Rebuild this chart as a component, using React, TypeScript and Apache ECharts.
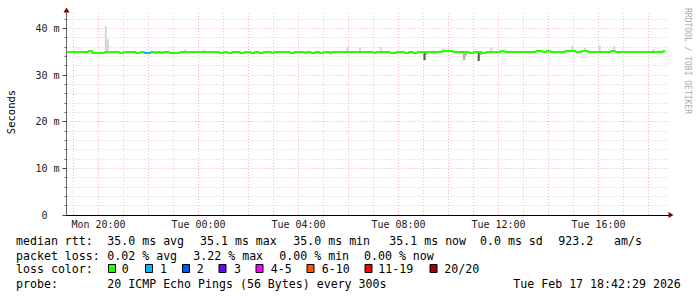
import React, { useEffect, useRef } from 'react';
import * as echarts from 'echarts';

// ---- data (time in minutes relative to Mon 20:00) ----
const medianTimes = [-75, -25, -15, 15, 50, 60, 90, 100, 110, 125, 135, 140, 150, 155, 170, 195, 290, 300, 310, 320, 340, 350, 365, 375, 385, 395, 415, 420, 460, 470, 495, 500, 510, 520, 530, 540, 555, 560, 660, 665, 700, 715, 735, 745, 755, 765, 825, 850, 890, 900, 920, 930, 965, 975, 1050, 1065, 1075, 1085, 1120, 1145, 1160, 1175, 1230, 1240, 1355, 1360];
const medianValues = [34.95, 35.15, 34.75, 34.95, 34.75, 34.95, 34.75, 34.95, 34.75, 34.95, 34.75, 34.95, 34.75, 34.95, 34.75, 34.95, 34.75, 34.95, 34.75, 34.95, 34.75, 34.95, 34.75, 34.95, 34.75, 34.95, 34.75, 34.95, 34.75, 34.95, 34.75, 34.95, 34.75, 34.95, 34.75, 34.95, 34.75, 34.95, 34.75, 34.95, 34.75, 34.95, 34.75, 34.95, 34.75, 34.95, 35.15, 34.95, 34.75, 34.95, 34.75, 34.95, 35.15, 34.95, 35.15, 34.95, 35.15, 34.95, 35.15, 34.95, 35.15, 34.95, 35.15, 34.95, 35.15, 35.15];

// packet loss episodes: start, end (minutes), lost pings
const lossStart = [110];
const lossEnd = [125];
const lossCount = [1];

// smoke (individual ping spread): time, low, high, shade
const smokeTime = [-60, 15, 20, 205, 250, 595, 625, 675, 825, 850, 940, 990, 1135, 1165, 1200, 1235, 1330, 780, 785, 875, 880, 910, 915];
const smokeLow = [34.95, 34.95, 34.95, 34.95, 34.95, 34.95, 34.95, 34.95, 35.15, 34.95, 34.95, 34.95, 35.15, 35.15, 34.95, 35.15, 34.95, 33.2, 34.3, 33.2, 34.2, 33.0, 34.3];
const smokeHigh = [35.35, 40.5, 37.7, 35.5, 35.5, 35.9, 35.9, 36.0, 35.7, 35.3, 35.9, 35.3, 36.2, 35.9, 36.4, 36.2, 35.5, 34.95, 34.95, 34.95, 34.95, 34.95, 34.95];
const smokeShade = [0, 0, 0, 0, 0, 0, 0, 0, 0, 0, 0, 0, 0, 0, 0, 0, 0, 2, 1, 1, 1, 2, 1];

const xLabelMinutes = [0, 240, 480, 720, 960, 1200];
const xTickLabels = ['Mon 20:00', 'Tue 00:00', 'Tue 04:00', 'Tue 08:00', 'Tue 12:00', 'Tue 16:00'];
const xMajorMinutes = [0, 120, 240, 360, 480, 600, 720, 840, 960, 1080, 1200, 1320];
const xMinorMinutes = [-60, 60, 180, 300, 420, 540, 660, 780, 900, 1020, 1140, 1260];
const yTickValues = [0, 10, 20, 30, 40];
const yTickLabels = ['0', '10 m', '20 m', '30 m', '40 m'];
const yMinorValues = [2, 4, 6, 8, 12, 14, 16, 18, 22, 24, 26, 28, 32, 34, 36, 38, 42];

const lossLabels = ['0', '1', '2', '3', '4-5', '6-10', '11-19', '20/20'];
const lossColors = ['#26ff00', '#00b8ff', '#0059ff', '#6a00ff', '#ff00ff', '#ff5500', '#ff0000', '#a00000'];

const rttStats = ['35.0 ms avg', '35.1 ms max', '35.0 ms min', '35.1 ms now', '0.0 ms sd', '923.2', 'am/s'];
const lossStats = ['0.02 % avg', '3.22 % max', '0.00 % min', '0.00 % now'];
const probeText = '20 ICMP Echo Pings (56 Bytes) every 300s';
const dateText = 'Tue Feb 17 18:42:29 2026';
const STEP = 5;

// ---- layout / style ----
const X_MIN = -76.8;
const X_MAX = 1369.2;
const Y_MAX = 43.3;
const MONO = '"DejaVu Sans Mono", monospace';
const rttX = [107.3, 200, 293.3, 389.3, 480, 558.3, 614];
const lossX = [107.3, 193.3, 279.3, 364];
const boxX = [108.5, 145.5, 182.5, 219, 256, 307, 365, 430];
const boxLabelX = [121.7, 160, 196.7, 234, 270.7, 321.7, 378.3, 444.3];
const rowY = [241, 255.5, 269, 283.5];
const smokeShades = ['#d6d6d6', '#b0b0b0', '#555555'];
const GRID_GRAY = '#d0d0d0';
const GRID_RED = '#f0b4b4';

function medianAt(t: number): number {
  let v = medianValues[0];
  for (let i = 0; i < medianTimes.length; i++) if (medianTimes[i] <= t) v = medianValues[i];
  return v;
}

function txt(text: string, x: number, y: number, extra: any = {}) {
  return {
    type: 'text', x, y, silent: true,
    style: { text, fill: '#000', font: `11.6px ${MONO}`, verticalAlign: 'middle', align: 'left', ...extra },
  };
}

function buildOption() {
  const medianData = medianTimes.map((t, i) => [t, medianValues[i]]);
  const smokeData = smokeTime.map((t, i) => [t, smokeLow[i], smokeHigh[i], smokeShade[i]]);
  const lossSeries = lossStart.map((s, i) => ({
    type: 'line', xAxisIndex: 0, yAxisIndex: 0, step: 'end', symbol: 'none', silent: true, z: 4,
    lineStyle: { color: lossColors[lossCount[i]], width: 2 },
    data: [[s, medianAt(s)], [lossEnd[i], medianAt(s)]],
  }));

  const graphics: any[] = [];
  graphics.push(txt('median rtt:', 16, rowY[0]));
  rttStats.forEach((s, i) => graphics.push(txt(s, rttX[i], rowY[0])));
  graphics.push(txt('packet loss:', 16, rowY[1]));
  lossStats.forEach((s, i) => graphics.push(txt(s, lossX[i], rowY[1])));
  graphics.push(txt('loss color:', 16, rowY[2]));
  lossLabels.forEach((l, i) => {
    graphics.push({
      type: 'rect', silent: true,
      shape: { x: boxX[i], y: 264.5, width: 7, height: 8 },
      style: { fill: lossColors[i], stroke: '#000', lineWidth: 1 },
    });
    graphics.push(txt(l, boxLabelX[i], rowY[2]));
  });
  graphics.push(txt('probe:', 16, rowY[3]));
  graphics.push(txt(probeText, 107.3, rowY[3]));
  graphics.push(txt(dateText, 513.3, rowY[3]));
  graphics.push({
    type: 'text', x: 11, y: 112, rotation: Math.PI / 2, silent: true,
    style: { text: 'Seconds', fill: '#000', font: `10.5px ${MONO}`, align: 'center', verticalAlign: 'middle' },
  });
  graphics.push({
    type: 'text', x: 687.5, y: 61, rotation: -Math.PI / 2, silent: true,
    style: { text: 'RRDTOOL / TOBI OETIKER', fill: '#aaaaaa', font: `8px ${MONO}`, align: 'center', verticalAlign: 'middle' },
  });

  const axisLabelStyle = { color: '#222', fontFamily: MONO, fontSize: 10 };

  return {
    animation: false,
    backgroundColor: '#ffffff',
    grid: { left: 66.5, top: 13, width: 602.5, height: 202, containLabel: false },
    xAxis: [
      {
        type: 'value', min: X_MIN, max: X_MAX, position: 'bottom',
        axisLine: { show: true, onZero: false, lineStyle: { color: '#000', width: 1 } },
        axisTick: { show: false, customValues: xMinorMinutes },
        axisLabel: {
          show: true, customValues: xLabelMinutes, margin: 4, ...axisLabelStyle,
          formatter: (v: number) => xTickLabels[xLabelMinutes.indexOf(v)] ?? '',
        },
        splitLine: { show: true, lineStyle: { color: GRID_GRAY, type: [1, 2], width: 1 } },
      },
      {
        type: 'value', min: X_MIN, max: X_MAX, position: 'bottom',
        axisLine: {
          show: true, onZero: false, symbol: ['none', 'triangle'], symbolSize: [6, 5], symbolOffset: [0, 2],
          lineStyle: { color: '#800000', width: 0 },
        },
        axisTick: { show: false, customValues: xMajorMinutes },
        axisLabel: { show: false },
        splitLine: { show: true, lineStyle: { color: GRID_RED, type: [1, 2], width: 1 } },
      },
    ],
    yAxis: [
      {
        type: 'value', min: 0, max: Y_MAX, position: 'left',
        axisLine: { show: true, onZero: false, lineStyle: { color: '#666', width: 1 } },
        axisTick: { show: true, customValues: yMinorValues, length: 2, lineStyle: { color: '#666' } },
        axisLabel: {
          show: true, customValues: yTickValues, margin: 7, ...axisLabelStyle,
          formatter: (v: number) => {
            const s = yTickLabels[yTickValues.indexOf(v)] ?? '';
            return v === 0 ? `{z|${s}}` : s;
          },
          rich: { z: { ...axisLabelStyle, padding: [0, 12, 0, 0] } },
        },
        splitLine: { show: true, lineStyle: { color: GRID_GRAY, type: [1, 2], width: 1 } },
      },
      {
        type: 'value', min: 0, max: Y_MAX, position: 'left',
        axisLine: {
          show: true, onZero: false, symbol: ['none', 'triangle'], symbolSize: [6, 5], symbolOffset: [0, 3],
          lineStyle: { color: '#800000', width: 0 },
        },
        axisTick: { show: true, customValues: yTickValues, length: 4, lineStyle: { color: '#444' } },
        axisLabel: { show: false },
        splitLine: { show: true, showMinLine: false, lineStyle: { color: GRID_RED, type: [1, 2], width: 1 } },
      },
    ],
    series: [
      {
        type: 'custom', xAxisIndex: 0, yAxisIndex: 0, silent: true, clip: true, z: 2,
        encode: { x: 0, y: [1, 2] },
        data: smokeData,
        renderItem: (params: any, api: any) => {
          const t = api.value(0), lo = api.value(1), hi = api.value(2), shade = api.value(3);
          const a = api.coord([t, hi]);
          const b = api.coord([t + STEP, lo]);
          return {
            type: 'rect',
            shape: { x: a[0], y: a[1], width: b[0] - a[0], height: b[1] - a[1] },
            style: { fill: smokeShades[shade] },
          };
        },
      },
      {
        type: 'line', xAxisIndex: 0, yAxisIndex: 0, step: 'end', symbol: 'none', silent: true, z: 3,
        lineStyle: { color: lossColors[0], width: 2 },
        data: medianData,
      },
      ...lossSeries,
    ],
    graphic: graphics,
  };
}

export default function App() {
  const ref = useRef<HTMLDivElement>(null);
  useEffect(() => {
    if (!ref.current) return;
    const chart = echarts.init(ref.current, null, { renderer: 'svg' });
    chart.setOption(buildOption() as any);
    return () => chart.dispose();
  }, []);
  return (
    <div
      ref={ref}
      style={{ position: 'fixed', left: 0, top: 0, width: 697, height: 297, background: '#fff' }}
    />
  );
}
